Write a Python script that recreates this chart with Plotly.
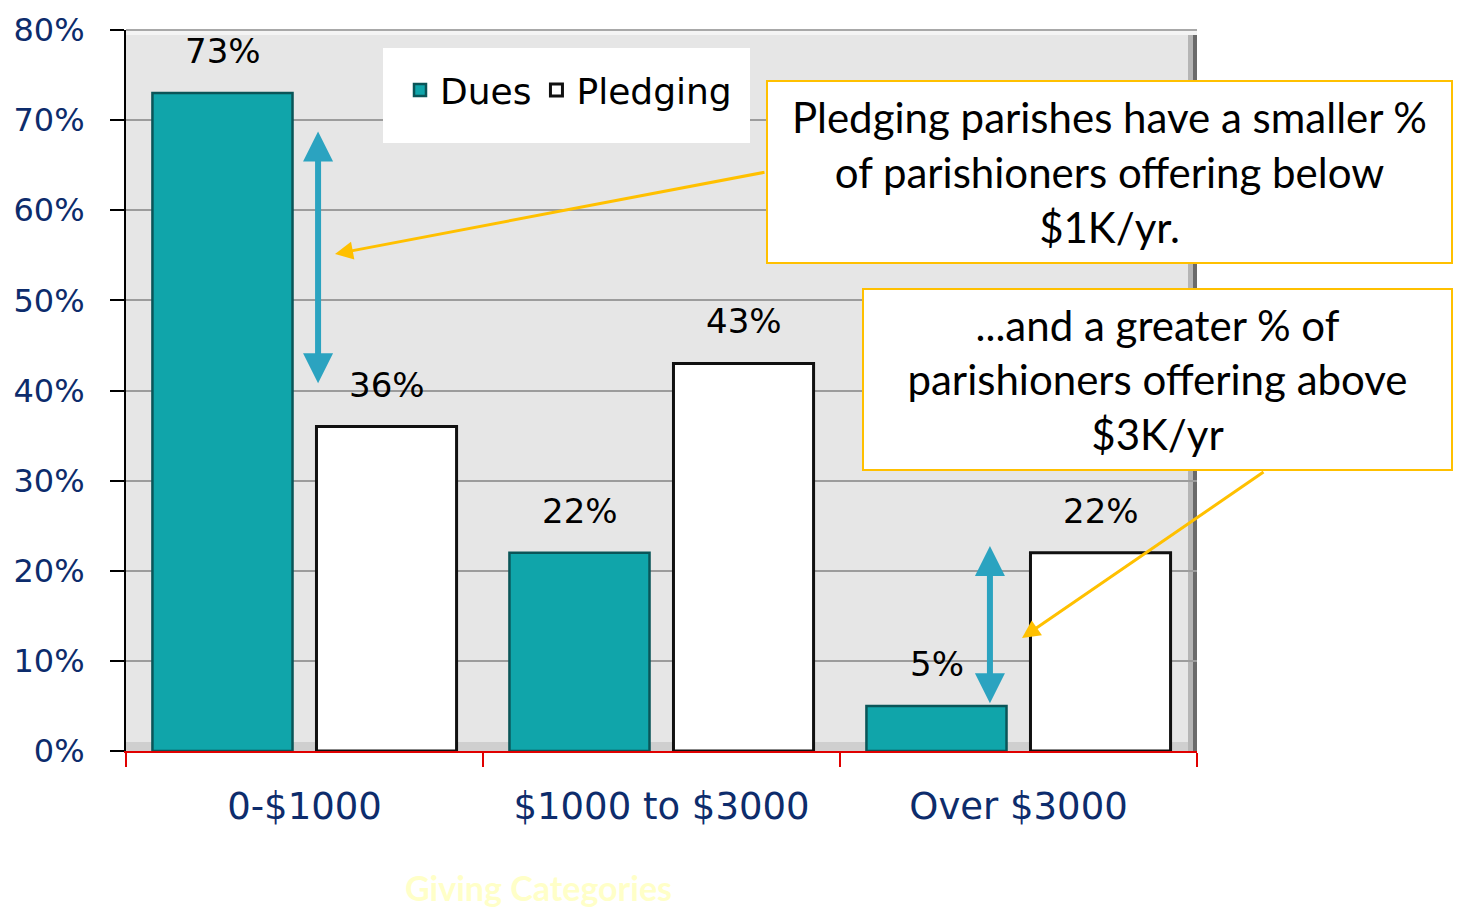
import plotly.graph_objects as go

categories = ["0-$1000", "$1000 to $3000", "Over $3000"]
dues = [73, 22, 5]
pledging = [36, 43, 22]
series_names = ["Dues", "Pledging"]
y_ticks = [0, 10, 20, 30, 40, 50, 60, 70, 80]

W, H = 1458, 907
L, R, T, B = 126, 261, 30, 156
pw, ph = W - L - R, H - T - B

def px_x(p):
    return (p - L) / pw

def px_y(p):
    return (H - B - p) / ph

NAVY = "#0D2C6C"
TEAL = "#10A5AA"
GOLD = "#FFC000"
ARROWBLUE = "#2BA3C0"

fig = go.Figure()
fig.add_trace(go.Bar(
    name=series_names[0], x=categories, y=dues,
    marker=dict(color=TEAL, line=dict(color="#0A5558", width=2.5)),
))
fig.add_trace(go.Bar(
    name=series_names[1], x=categories, y=pledging,
    marker=dict(color="#FFFFFF", line=dict(color="#111111", width=3)),
))

annotations = []
# data labels
for vals, shift in ((dues, -82), (pledging, 82)):
    for c, v in zip(categories, vals):
        annotations.append(dict(
            x=c, y=v, xref="x", yref="y", text=f"{v}%", showarrow=False,
            xshift=shift, yshift=42, font=dict(family="DejaVu Sans", size=34, color="black"),
        ))

# callout boxes
annotations.append(dict(
    x=px_x(1109.5), y=px_y(172), xref="paper", yref="paper", showarrow=False,
    text="Pledging parishes have a smaller %<br>of parishioners offering below<br>$1K/yr.",
    font=dict(family="Lato", size=42, color="black"), align="center",
    bgcolor="white", bordercolor=GOLD, borderwidth=2, width=681, height=178,
    xanchor="center", yanchor="middle",
))
annotations.append(dict(
    x=px_x(1157.5), y=px_y(379.5), xref="paper", yref="paper", showarrow=False,
    text="...and a greater % of<br>parishioners offering above<br>$3K/yr",
    font=dict(family="Lato", size=42, color="black"), align="center",
    bgcolor="white", bordercolor=GOLD, borderwidth=2, width=585, height=177,
    xanchor="center", yanchor="middle",
))
# yellow arrows
annotations.append(dict(
    x=px_x(335), y=px_y(254), xref="paper", yref="paper", text="",
    showarrow=True, ax=431, ay=-82, arrowhead=2, arrowsize=1.2, arrowwidth=3, arrowcolor=GOLD,
))
annotations.append(dict(
    x=px_x(1022), y=px_y(638), xref="paper", yref="paper", text="",
    showarrow=True, ax=243, ay=-167, arrowhead=2, arrowsize=1.2, arrowwidth=3, arrowcolor=GOLD,
))
# blue double arrows
annotations.append(dict(
    x=0.038, y=40.8, xref="x", yref="y", ax=0.038, ay=68.9, axref="x", ayref="y",
    text="", showarrow=True, arrowside="end+start", arrowhead=2, arrowsize=1.0,
    arrowwidth=6, arrowcolor=ARROWBLUE,
))
annotations.append(dict(
    x=1.92, y=5.3, xref="x", yref="y", ax=1.92, ay=22.9, axref="x", ayref="y",
    text="", showarrow=True, arrowside="end+start", arrowhead=2, arrowsize=1.0,
    arrowwidth=6, arrowcolor=ARROWBLUE,
))
# axis title
annotations.append(dict(
    x=px_x(538), y=px_y(888), xref="paper", yref="paper", showarrow=False,
    xanchor="center", yanchor="middle",
    text="<b>Giving Categories</b>", font=dict(family="Lato", size=34, color="#FFFFC8"),
))

shapes = [
    # bevel strips of the plot area
    dict(type="rect", xref="paper", yref="paper", x0=px_x(1188), x1=1, y0=0, y1=1,
         fillcolor="#B5B5B5", line=dict(width=0), layer="below"),
    dict(type="rect", xref="paper", yref="paper", x0=px_x(1193), x1=1, y0=0, y1=1,
         fillcolor="#6A6A6A", line=dict(width=0), layer="below"),
    dict(type="rect", xref="paper", yref="paper", x0=0, x1=1, y0=px_y(35), y1=1,
         fillcolor="#F4F4F4", line=dict(width=0), layer="below"),
    dict(type="line", xref="paper", yref="paper", x0=0, x1=1, y0=1, y1=1,
         line=dict(color="#A8A8A8", width=2), layer="below"),
    dict(type="rect", xref="paper", yref="paper", x0=0, x1=px_x(1188), y0=0, y1=px_y(742),
         fillcolor="#CFCFCF", line=dict(width=0), layer="below"),
    # legend box
    dict(type="rect", xref="paper", yref="paper", x0=px_x(383), x1=px_x(750),
         y0=px_y(143), y1=px_y(48), fillcolor="white", line=dict(width=0), layer="above"),
]

fig.update_layout(
    width=W, height=H,
    margin=dict(l=L, r=R, t=T, b=B, pad=0, autoexpand=False),
    paper_bgcolor="white", plot_bgcolor="#E6E6E6",
    barmode="group", bargap=0.081, bargroupgap=0.146,
    showlegend=True,
    legend=dict(
        orientation="h", x=px_x(400), y=px_y(60), xanchor="left", yanchor="top",
        bgcolor="rgba(0,0,0,0)", borderwidth=0,
        font=dict(family="DejaVu Sans", size=36, color="black"),
        itemwidth=30, tracegroupgap=0,
    ),
    xaxis=dict(
        automargin=False,
        showgrid=False, ticks="outside", tickson="boundaries", ticklen=14,
        tickcolor="#E00000", tickwidth=1.5, showline=True, linecolor="#E00000", linewidth=1.5,
        tickfont=dict(family="DejaVu Sans", size=37, color=NAVY),
        ticklabelstandoff=22,
    ),
    yaxis=dict(
        automargin=False,
        range=[0, 80], tickvals=y_ticks, ticktext=[f"{v}%" for v in y_ticks],
        showgrid=True, gridcolor="#9C9C9C", gridwidth=1.5,
        ticks="outside", ticklen=14, tickcolor="black", tickwidth=2,
        showline=True, linecolor="black", linewidth=2, zeroline=False,
        tickfont=dict(family="DejaVu Sans", size=32, color=NAVY),
        ticklabelstandoff=19,
    ),
    annotations=annotations,
    shapes=shapes,
)

fig.write_html(
    "out.html",
    config={"displayModeBar": False},
    post_script="document.body.style.margin='0';document.body.style.overflow='hidden';",
)
